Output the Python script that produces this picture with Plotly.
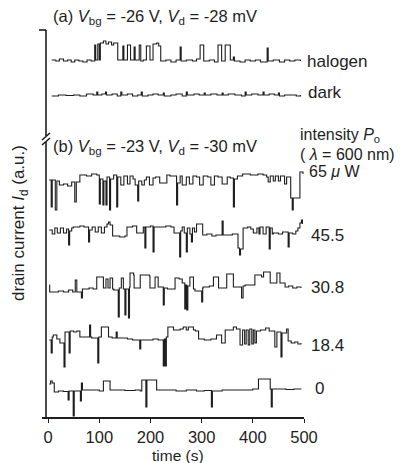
import plotly.graph_objects as go

# ---- data (time in s, drain current in a.u.) ----
halogen = [(7,357),(15,356),(22,358),(30,356),(38,357),(45,355),(52,357),(60,356),(68,355),(76,357),(84,356),
           (91,372),(93,357),(97,373),(100,357),(102,374),(108,376),(113,373),(118,375),(124,372),(128,374),
           (136,357),(146,371),(148,357),(155,372),(161,357),(168,370),(170,357),(178,372),(181,356),(186,357),
           (192,371),(199,357),(205,373),(212,374),(216,371),(220,356),(230,357),(240,355),(250,357),(258,370),
           (260,356),(270,357),(282,356),(290,358),(297,372),(304,356),(315,357),(325,355),(332,372),(339,356),
           (346,372),(356,357),(362,360),(364,356),(375,355),(385,357),(395,356),(405,357),(415,355),(428,369),
           (430,356),(440,357),(452,355),(462,357),(472,356),(482,357),(493,356)]
dark = [(7,321),(20,322),(35,321.5),(50,322),(62,321),(75,323),(88,322),(95,325),(97,322),(105,323),(112,325),
        (114,322),(125,323),(135,321),(142,325),(144,322),(155,323),(165,321),(175,322),(182,325),(184,321),
        (195,322),(205,323),(215,322),(225,324),(227,321),(240,322),(250,323),(262,321),(270,325),(272,322),
        (285,323),(295,322),(305,324),(307,322),(318,323),(330,322),(340,324),(342,322),(352,323),(365,322),
        (378,321),(385,325),(387,322),(398,323),(410,322),(420,325),(422,322),(432,323),(442,322),(450,324),
        (452,321),(462,322),(475,322),(485,321),(493,322)]
p65 = [(2,237),(6,210),(8,237),(14,207),(17,236),(22,232),(30,233),(38,231),(46,235),(52,215),(55,235),(62,242),
       (75,241),(85,243),(95,242),(100,213),(102,238),(107,212),(109,236),(113,212),(115,240),(120,207),(122,238),
       (128,242),(134,210),(136,240),(142,232),(148,241),(155,233),(160,241),(166,238),(170,232),(175,216),(177,236),
       (183,232),(188,237),(192,240),(198,232),(205,239),(210,240),(218,234),(226,234),(232,242),(238,241),(244,241),
       (251,212),(253,234),(258,241),(262,232),(270,240),(276,233),(283,241),(290,240),(296,232),(303,241),(312,240),
       (318,232),(325,241),(332,240),(340,233),(350,240),(356,239),(362,210),(364,238),(370,241),(380,243),(395,242),
       (410,243),(420,242),(427,240),(430,235),(434,241),(440,236),(444,241),(450,236),(454,241),(462,233),(466,240),
       (474,219),(477,207),(479,219),(492,245),(498,243)]
p45 = [(2,187),(8,183),(13,189),(18,184),(24,189),(30,184),(36,188),(40,172),(42,186),(46,189),(49,190),(62,191),
       (70,190),(79,175),(81,187),(86,190),(92,185),(98,190),(104,184),(110,190),(115,193),(118,195),(121,192),
       (126,181),(140,180),(150,181),(154,190),(165,191),(173,184),(186,190),(189,169),(191,190),(200,191),(205,165),
       (207,190),(212,190),(230,191),(240,190),(246,184),(257,160),(259,186),(262,190),(266,184),(270,165),(272,189),
       (277,183),(280,175),(282,189),(286,185),(290,193),(302,182),(310,183),(320,181),(328,182),(340,196),(342,182),
       (350,182),(360,183),(371,169),(374,162),(376,168),(381,189),(390,190),(396,188),(401,184),(408,189),(412,183),
       (414,190),(420,183),(426,190),(432,168),(434,189),(438,183),(440,184),(450,183),(458,185),(469,170),(471,184),
       (478,183),(484,186),(488,189),(492,194),(495,197),(497,193)]
p30 = [(2,132),(3,125),(20,126),(30,125),(40,127),(48,125),(53,137),(56,125),(65,119),(67,128),(80,129),(88,128),
       (95,140),(106,140),(108,129),(113,138),(117,129),(121,139),(126,128),(128,127),(137,100),(139,129),(143,139),
       (147,128),(150,102),(152,128),(157,99),(159,130),(160,144),(167,142),(168,129),(180,142),(198,141),(199,129),
       (209,140),(215,130),(225,112),(227,129),(233,128),(248,139),(256,138),(262,134),(267,108),(269,132),(271,107),
       (273,131),(277,140),(284,128),(287,126),(300,115),(302,129),(303,130),(315,131),(323,140),(333,129),(336,129),
       (349,143),(362,130),(378,119),(381,131),(385,132),(404,142),(417,140),(421,145),(434,134),(447,144),(453,134),
       (463,130),(470,131),(478,129),(486,130),(494,129)]
p18 = [(2,77),(6,64),(8,80),(10,82),(17,78),(23,74),(31,50),(33,85),(41,64),(43,86),(50,85),(56,86),(62,80),(81,92),
       (83,80),(85,79),(97,54),(99,80),(104,90),(118,80),(125,79),(133,85),(135,79),(141,79),(155,78),(165,77),(175,77),
       (179,68),(181,77),(190,77),(205,78),(215,77),(225,51),(227,78),(229,51),(231,80),(234,90),(245,87),(250,87),
       (258,88),(264,90),(270,87),(274,90),(284,87),(288,86),(294,78),(305,77),(318,78),(329,82),(339,74),(346,87),
       (362,90),(368,88),(375,72),(380,87),(384,73),(387,87),(391,72),(394,88),(398,73),(401,87),(404,74),(407,86),
       (415,87),(425,89),(432,86),(443,70),(447,85),(455,60),(457,84),(466,88),(469,76),(475,74),(482,75),(488,73),
       (494,74)]
p0 = [(2,33),(5,36),(8,34),(12,25),(20,26),(30,25.5),(39,17),(41,26),(49,1),(51,26),(58,26),(63,16),(65,34),(67,27),
      (75,27),(90,27),(100,26),(108,36),(121,27),(130,27),(150,26.5),(170,27),(180,26),(183,37),(191,10),(193,37),
      (196,37),(212,27),(230,27),(250,26),(270,27),(290,26),(305,26.5),(319,10),(321,26),(340,27),(360,27),(380,27),
      (400,28),(411,38),(434,28),(436,10),(438,28),(450,28),(465,27.5),(480,28),(494,27.5)]

traces = [halogen, dark, p65, p45, p30, p18, p0]
x_ticks = [0, 100, 200, 300, 400, 500]

FONT = "Liberation Sans, Arial, sans-serif"
W, H = 410, 463
L, R, T, B = 42, 106, 30, 46
pw, ph = W - L - R, H - T - B


def px(x):
    return (x - L) / pw


def py(y):
    return (H - B - y) / ph


fig = go.Figure()
for tr in traces:
    fig.add_trace(go.Scatter(x=[p[0] for p in tr], y=[p[1] for p in tr], mode="lines",
                             line=dict(color="#1e1e1e", width=1.1, shape="hv"),
                             hoverinfo="skip", showlegend=False))

ann = []


def text(x, y, s, size=17, xa="left", angle=0):
    ann.append(dict(x=px(x), y=py(y), xref="paper", yref="paper", text=s, showarrow=False,
                    xanchor=xa, yanchor="middle", textangle=angle,
                    font=dict(family=FONT, size=size, color="#1e1e1e")))


text(51, 17, "(a) <i>V</i><sub>bg</sub> = -26 V, <i>V</i><sub>d</sub> = -28 mV", 16.5)
text(305, 62, "halogen", 17)
text(306, 93, "dark", 17)
text(51, 147, "(b) <i>V</i><sub>bg</sub> = -23 V, <i>V</i><sub>d</sub> = -30 mV", 16.5)
text(298, 135, "intensity <i>P</i><sub>o</sub>", 16)
text(298, 155, "( <i>λ</i> = 600 nm)", 16)
text(307, 172, "65 <i>μ</i> W", 16)
text(309, 235, "45.5", 17)
text(309, 287, "30.8", 17)
text(309, 345, "18.4", 17)
text(313, 388, "0", 17)
text(178, 455, "time (s)", 15.5, xa="center")
text(20, 223, "drain current <i>I</i><sub>d</sub> (a.u.)", 17, xa="center", angle=-90)

ax = 46
shapes = [
    dict(type="line", xref="paper", yref="paper", x0=px(39), x1=px(ax), y0=py(30), y1=py(30)),
    dict(type="line", xref="paper", yref="paper", x0=px(ax), x1=px(ax), y0=py(30), y1=py(136)),
    dict(type="line", xref="paper", yref="paper", x0=px(ax), x1=px(ax), y0=py(142), y1=py(417)),
    dict(type="line", xref="paper", yref="paper", x0=px(42), x1=px(50), y0=py(140), y1=py(133)),
    dict(type="line", xref="paper", yref="paper", x0=px(42), x1=px(50), y0=py(145), y1=py(138)),
]
for s in shapes:
    s["line"] = dict(color="#1e1e1e", width=1.6)

fig.update_layout(
    width=W, height=H, margin=dict(l=L, r=R, t=T, b=B),
    paper_bgcolor="white", plot_bgcolor="white",
    annotations=ann, shapes=shapes,
    xaxis=dict(range=[-12, 500], tickvals=x_ticks, ticktext=[str(v) for v in x_ticks],
               showline=True, linecolor="#1e1e1e", linewidth=1.6, ticks="outside", ticklen=4,
               tickcolor="#1e1e1e", showgrid=False, zeroline=False, ticklabelstandoff=0,
               tickfont=dict(family=FONT, size=16.5, color="#1e1e1e")),
    yaxis=dict(range=[0, 387], visible=False, showgrid=False, zeroline=False),
)

fig.write_html("out.html", config={"displayModeBar": False},
               post_script="document.body.style.margin='0';document.body.style.overflow='hidden';")
